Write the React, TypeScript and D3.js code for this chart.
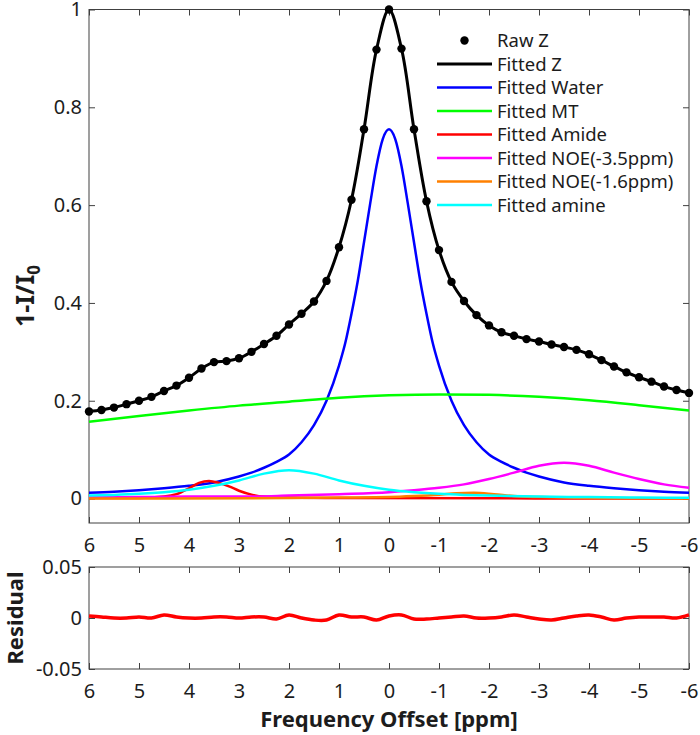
import { useEffect, useRef } from 'react';
import * as d3 from 'd3';

// frequency offsets of the acquired Z-spectrum (ppm)
const offsets = [
  6, 5.75, 5.5, 5.25, 5, 4.75, 4.5, 4.25, 4, 3.75, 3.5, 3.25, 3, 2.75, 2.5, 2.25, 2, 1.75, 1.5, 1.25, 1,
  0.75, 0.5, 0.25, 0,
  -0.25, -0.5, -0.75, -1, -1.25, -1.5, -1.75, -2, -2.25, -2.5, -2.75, -3, -3.25, -3.5, -3.75, -4,
  -4.25, -4.5, -4.75, -5, -5.25, -5.5, -5.75, -6,
];

const rawZ = [
  0.178, 0.181, 0.186, 0.193, 0.2, 0.208, 0.22, 0.231, 0.247, 0.266, 0.279, 0.281, 0.287, 0.3, 0.316, 0.333, 0.356, 0.378, 0.403, 0.445, 0.514,
  0.611, 0.755, 0.918, 1.0,
  0.92, 0.755, 0.608, 0.508, 0.443, 0.404, 0.375, 0.354, 0.34, 0.333, 0.326, 0.321, 0.315, 0.31, 0.304, 0.295,
  0.283, 0.27, 0.258, 0.248, 0.239, 0.229, 0.222, 0.216,
];

const residual = [
  0.002, 0.001, 0, 0, 0.001, 0, 0.003, 0.001, 0, 0, 0.001, 0.001, 0, 0.001, 0.001, -0.001, 0.003, 0, -0.002, -0.002, 0.003,
  0.001, 0.001, -0.002, 0.002,
  0.003, -0.001, -0.001, 0, 0.001, 0.002, 0, 0, 0.001, 0.003, 0.001, -0.001, -0.002, 0, 0.002, 0.003,
  0.001, -0.002, 0, 0.001, 0.001, 0.001, 0, 0.003,
];

// fitted pool components, [ppm, value]
const water: [number, number][] = [
  [6, 0.012], [5.5, 0.014], [5, 0.017], [4.5, 0.021], [4, 0.026], [3.5, 0.033], [3, 0.045], [2.75, 0.053],
  [2.5, 0.063], [2.25, 0.075], [2, 0.09], [1.75, 0.115], [1.5, 0.15], [1.25, 0.2], [1, 0.272], [0.875, 0.318],
  [0.75, 0.378], [0.625, 0.445], [0.5, 0.524], [0.375, 0.604], [0.25, 0.68], [0.125, 0.735], [0, 0.755],
  [-0.125, 0.735], [-0.25, 0.68], [-0.375, 0.604], [-0.5, 0.524], [-0.625, 0.445], [-0.75, 0.378], [-0.875, 0.318],
  [-1, 0.272], [-1.25, 0.2], [-1.5, 0.15], [-1.75, 0.115], [-2, 0.09], [-2.25, 0.075], [-2.5, 0.063], [-2.75, 0.053],
  [-3, 0.045], [-3.5, 0.033], [-4, 0.026], [-4.5, 0.021], [-5, 0.017], [-5.5, 0.014], [-6, 0.012],
];
const mt: [number, number][] = [
  [6, 0.157], [5, 0.169], [4, 0.18], [3, 0.19], [2, 0.198], [1, 0.206], [0, 0.211],
  [-1, 0.213], [-2, 0.212], [-3, 0.208], [-4, 0.201], [-5, 0.191], [-6, 0.18],
];
const amide: [number, number][] = [
  [6, 0.001], [5, 0.001], [4.5, 0.004], [4.25, 0.009], [4, 0.021], [3.8, 0.032], [3.6, 0.036], [3.4, 0.032],
  [3.2, 0.025], [3, 0.016], [2.75, 0.008], [2.5, 0.004], [2, 0.002], [1, 0.001], [-6, 0],
];
const noe35: [number, number][] = [
  [6, 0.002], [5, 0.003], [4, 0.004], [3, 0.004], [2, 0.006], [1, 0.009], [0, 0.013], [-0.5, 0.017],
  [-1, 0.022], [-1.5, 0.029], [-2, 0.04], [-2.5, 0.053], [-3, 0.067], [-3.5, 0.073], [-4, 0.067],
  [-4.5, 0.053], [-5, 0.04], [-5.5, 0.029], [-6, 0.022],
];
const noe16: [number, number][] = [
  [6, 0], [2, 0.001], [1, 0.002], [0, 0.003], [-0.5, 0.005], [-1, 0.008], [-1.35, 0.011], [-1.7, 0.012],
  [-2.1, 0.009], [-2.5, 0.005], [-3, 0.003], [-4, 0.001], [-6, 0],
];
const amine: [number, number][] = [
  [6, 0.006], [5.5, 0.0074], [5, 0.0096], [4.5, 0.013], [4, 0.018], [3.5, 0.026], [3, 0.037], [2.5, 0.051],
  [2, 0.058], [1.5, 0.051], [1, 0.037], [0.5, 0.026], [0, 0.018], [-0.5, 0.013], [-1, 0.0096], [-1.5, 0.0074],
  [-2, 0.006], [-3, 0.004], [-4, 0.003], [-5, 0.002], [-6, 0.0016],
];

const xTicks = [6, 5, 4, 3, 2, 1, 0, -1, -2, -3, -4, -5, -6];
const yTicks = [0, 0.2, 0.4, 0.6, 0.8, 1];
const rTicks = [-0.05, 0, 0.05];

const legendLabels = [
  'Raw Z', 'Fitted Z', 'Fitted Water', 'Fitted MT', 'Fitted Amide',
  'Fitted NOE(-3.5ppm)', 'Fitted NOE(-1.6ppm)', 'Fitted amine',
];

const FONT = '"Noto Sans", "Open Sans", sans-serif';

export default function App() {
  const svgRef = useRef<SVGSVGElement>(null);

  useEffect(() => {
    if (!svgRef.current) return;
    const svg = d3.select(svgRef.current);
    svg.selectAll('*').remove();

    const width = 700;
    const height = 735;
    svg.attr('width', width).attr('height', height).attr('font-family', FONT);

    const left = 89, right = 689;
    const top = 9.5, bottom = 523;
    const rTop = 567, rBottom = 669;

    const x = d3.scaleLinear().domain([6, -6]).range([left, right]);
    const y = d3.scaleLinear().domain([-0.05, 1]).range([bottom, top]);
    const yr = d3.scaleLinear().domain([-0.05, 0.05]).range([rBottom, rTop]);

    const axisColor = '#404040';
    const textColor = '#1c1c1c';

    const styleAxis = (g: any) => {
      g.select('.domain').remove();
      g.selectAll('line').attr('stroke', axisColor);
      g.selectAll('text').attr('fill', textColor);
      g.attr('font-size', 20).attr('font-family', FONT);
    };
    const fmt = (d: any) => String(d);
    const none = () => '';

    // axes for main and residual panels
    const drawAxes = (ys: any, y0: number, y1: number, yVals: number[], xPad: number) => {
      svg.append('g').attr('transform', `translate(0,${y1})`)
        .call(d3.axisBottom(x).tickValues(xTicks).tickSize(-6).tickPadding(xPad).tickFormat(fmt))
        .call(styleAxis);
      svg.append('g').attr('transform', `translate(0,${y0})`)
        .call(d3.axisTop(x).tickValues(xTicks).tickSize(-6).tickFormat(none))
        .call(styleAxis);
      svg.append('g').attr('transform', `translate(${left},0)`)
        .call(d3.axisLeft(ys).tickValues(yVals).tickSize(-6).tickPadding(7).tickFormat(fmt))
        .call(styleAxis);
      svg.append('g').attr('transform', `translate(${right},0)`)
        .call(d3.axisRight(ys).tickValues(yVals).tickSize(-6).tickFormat(none))
        .call(styleAxis);
      svg.append('rect')
        .attr('x', left).attr('y', y0)
        .attr('width', right - left).attr('height', y1 - y0)
        .attr('fill', 'none').attr('stroke', axisColor).attr('stroke-width', 1);
    };

    drawAxes(y, top, bottom, yTicks, 15);
    drawAxes(yr, rTop, rBottom, rTicks, 14.5);

    const line = d3.line<[number, number]>()
      .x(d => x(d[0]))
      .y(d => y(d[1]))
      .curve(d3.curveMonotoneX);

    const zPairs: [number, number][] = offsets.map((o, i) => [o, rawZ[i]]);

    const series = [
      { data: water, color: '#0000ff' },
      { data: mt, color: '#00ff00' },
      { data: amide, color: '#ff0000' },
      { data: noe35, color: '#ff00ff' },
      { data: noe16, color: '#ff8000' },
      { data: amine, color: '#00ffff' },
    ];

    const plot = svg.append('g');

    // fitted Z through the spectrum
    plot.append('path')
      .datum(zPairs)
      .attr('d', d3.line<[number, number]>()
        .x(d => x(d[0]))
        .y(d => y(d[1]))
        .curve(d3.curveCatmullRom.alpha(0.5)))
      .attr('fill', 'none')
      .attr('stroke', '#000')
      .attr('stroke-width', 3);

    plot.selectAll('.dot')
      .data(zPairs)
      .enter()
      .append('circle')
      .attr('cx', d => x(d[0]))
      .attr('cy', d => y(d[1]))
      .attr('r', 4.2)
      .attr('fill', '#000');

    series.forEach(s => {
      plot.append('path')
        .datum(s.data)
        .attr('d', line)
        .attr('fill', 'none')
        .attr('stroke', s.color)
        .attr('stroke-width', 2.5);
    });

    // residual
    const resPairs: [number, number][] = offsets.map((o, i) => [o, residual[i]]);
    svg.append('path')
      .datum(resPairs)
      .attr('d', d3.line<[number, number]>()
        .x(d => x(d[0]))
        .y(d => yr(d[1]))
        .curve(d3.curveCatmullRom.alpha(0.5)))
      .attr('fill', 'none')
      .attr('stroke', '#ff0000')
      .attr('stroke-width', 3.5);

    // legend
    const legendColors = ['#000', '#000', '#0000ff', '#00ff00', '#ff0000', '#ff00ff', '#ff8000', '#00ffff'];
    const legend = svg.append('g').attr('transform', 'translate(437, 40.5)');
    legendLabels.forEach((label, i) => {
      const row = legend.append('g').attr('transform', `translate(0, ${i * 23.5})`);
      if (i === 0) {
        row.append('circle').attr('cx', 27.5).attr('cy', 0).attr('r', 4.2).attr('fill', '#000');
      } else {
        row.append('line')
          .attr('x1', 0).attr('x2', 55)
          .attr('y1', 0).attr('y2', 0)
          .attr('stroke', legendColors[i])
          .attr('stroke-width', i === 1 ? 3 : 2.5);
      }
      row.append('text')
        .attr('x', 60)
        .attr('y', 6.5)
        .attr('font-size', 18.5)
        .attr('fill', textColor)
        .text(label);
    });

    // axis labels
    const yl = svg.append('text')
      .attr('transform', `translate(34, 296) rotate(-90)`)
      .attr('text-anchor', 'middle')
      .attr('font-size', 25)
      .attr('font-weight', 'bold')
      .attr('fill', textColor);
    yl.append('tspan').text('1-I/I');
    yl.append('tspan').attr('font-size', 17).attr('dy', 6).text('0');

    svg.append('text')
      .attr('transform', `translate(23, ${(rTop + rBottom) / 2}) rotate(-90)`)
      .attr('text-anchor', 'middle')
      .attr('font-size', 22)
      .attr('font-weight', 'bold')
      .attr('fill', textColor)
      .text('Residual');

    svg.append('text')
      .attr('x', (left + right) / 2)
      .attr('y', 727)
      .attr('text-anchor', 'middle')
      .attr('font-size', 22)
      .attr('font-weight', 'bold')
      .attr('fill', textColor)
      .text('Frequency Offset [ppm]');
  }, []);

  return (
    <div style={{ position: 'absolute', left: 0, top: 0, background: '#fff' }}>
      <svg ref={svgRef} />
    </div>
  );
}
